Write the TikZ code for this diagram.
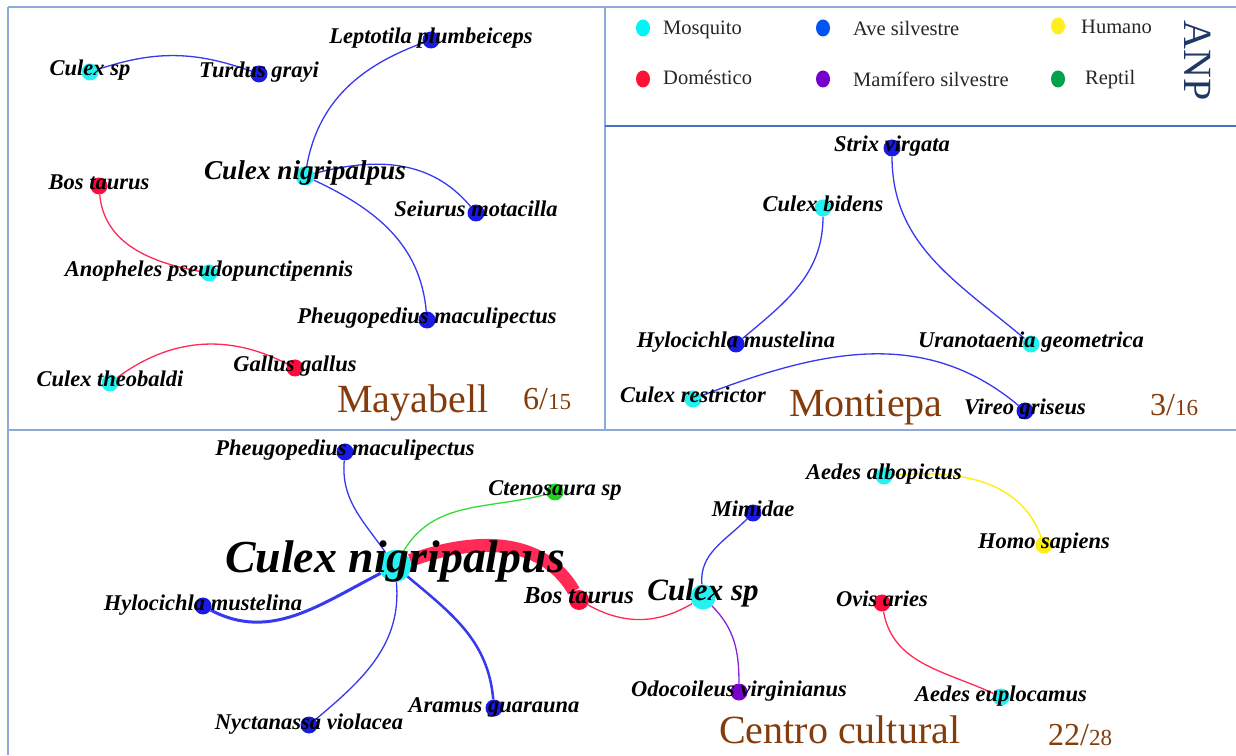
\documentclass[tikz,border=0pt]{standalone}
\usepackage{fontspec}
\setmainfont{Liberation Serif}
\usetikzlibrary{backgrounds,shapes.geometric}
\definecolor{mosq}{HTML}{22F2F2}
\definecolor{bird}{HTML}{1A1AE6}
\definecolor{dom}{HTML}{FF0A3C}
\definecolor{mam}{HTML}{7A00CC}
\definecolor{hum}{HTML}{FFEE11}
\definecolor{rep}{HTML}{22D022}
\definecolor{lmosq}{HTML}{00F5F5}
\definecolor{lbird}{HTML}{0055F0}
\definecolor{lhum}{HTML}{FFEE22}
\definecolor{ldom}{HTML}{FF1133}
\definecolor{lmam}{HTML}{7700CC}
\definecolor{lrep}{HTML}{00A04C}
\definecolor{ebird}{HTML}{3838F0}
\definecolor{edom}{HTML}{FF2A55}
\definecolor{egreen}{HTML}{33DD33}
\definecolor{eyel}{HTML}{FFEE00}
\definecolor{epurp}{HTML}{8822DD}
\definecolor{framec}{HTML}{8EAADB}
\definecolor{framed}{HTML}{4472C4}
\definecolor{titlec}{HTML}{843C0C}
\definecolor{anpc}{HTML}{1F3864}
\tikzset{
  dot/.style={circle, fill=#1, draw=none, minimum size=17pt, inner sep=0pt},
  ldot/.style={ellipse, fill=#1, draw=none, minimum width=14pt, minimum height=17pt, inner sep=0pt},
  lab/.style={font=\fontsize{22.5}{24}\selectfont\bfseries\itshape, anchor=base, inner sep=0pt, text=black, yshift=-4pt},
  leg/.style={font=\fontsize{20.5}{22}\selectfont, anchor=mid west, inner sep=0pt, text=black!85},
  ttl/.style={font=\fontsize{40}{42}\selectfont, anchor=base west, inner sep=0pt, text=titlec},
  frac/.style={anchor=base west, inner sep=0pt, text=titlec},
  link/.style={line width=1.3pt, draw=#1},
  frameline/.style={line width=1.5pt, draw=framec},
}
\begin{document}
\begin{tikzpicture}[x=1pt,y=1pt]
\useasboundingbox (0,0) rectangle (1236,755);
\begin{scope}[on background layer]
\fill[white] (0,0) rectangle (1236,755);
\end{scope}
% frame
\draw[frameline] (8,748) -- (1236,748);
\draw[frameline] (8,0) -- (8,748);
\draw[frameline] (605,748) -- (605,325);
\draw[frameline] (8,325) -- (1236,325);
\draw[line width=1.5pt, draw=framed] (605,629) -- (1236,629);

% legend
\node[ldot=lmosq] (L1) at (643,727) {};
\node[ldot=lbird] (L2) at (823,727) {};
\node[ldot=lhum] (L3) at (1058,729) {};
\node[ldot=ldom] (L4) at (643,676) {};
\node[ldot=lmam] (L5) at (823,676) {};
\node[ldot=lrep] (L6) at (1058,676) {};
\node[leg] (T1) at (663,723) {Mosquito};
\node[leg] (T2) at (853,722) {Ave silvestre};
\node[leg] (T3) at (1081,724) {Humano};
\node[leg] (T4) at (663,673) {Doméstico};
\node[leg] (T5) at (853,671) {Mamífero silvestre};
\node[leg] (T6) at (1085,673) {Reptil};
\node[rotate=-90, font=\fontsize{40}{42}\selectfont, text=anpc, inner sep=0pt] (ANP) at (1198,694) {ANP};

% ---------- Mayabell ----------
\node[dot=mosq] (CulexSp) at (90,683) {};
\node[dot=bird] (Turdus) at (259,681) {};
\node[dot=bird] (Lepto) at (431,715) {};
\node[dot=mosq, minimum size=19pt] (CnigM) at (305,579) {};
\node[dot=bird] (Seiu) at (476,542) {};
\node[dot=dom] (BosM) at (99,569) {};
\node[dot=mosq] (Anoph) at (209,482) {};
\node[dot=bird] (PheugM) at (427,435) {};
\node[dot=mosq] (Theob) at (110,372) {};
\node[dot=dom] (Gallus) at (295,387) {};

% ---------- Montiepa ----------
\node[dot=bird] (Strix) at (892,607) {};
\node[dot=mosq] (Bidens) at (823,547) {};
\node[dot=bird] (HyloMo) at (736,411) {};
\node[dot=mosq] (Urano) at (1031,411) {};
\node[dot=mosq] (Restr) at (693,356) {};
\node[dot=bird] (Vireo) at (1025,344) {};

% ---------- Centro cultural ----------
\node[dot=bird] (PheugC) at (345,303) {};
\node[dot=rep] (Cteno) at (555,263) {};
\node[dot=mosq, minimum size=32pt] (CnigC) at (395,189) {};
\node[dot=bird] (HyloC) at (203,149) {};
\node[dot=bird] (Nyct) at (309,30) {};
\node[dot=bird] (Aramus) at (494,47) {};
\node[dot=dom, minimum size=20pt] (BosC) at (579,155) {};
\node[dot=mosq, minimum size=25pt] (CsC) at (703,158) {};
\node[dot=bird] (Mimid) at (753,242) {};
\node[dot=mam] (Odoc) at (739,63) {};
\node[dot=mosq] (Albop) at (884,279) {};
\node[dot=hum] (Homo) at (1044,210) {};
\node[dot=dom] (Ovis) at (882,152) {};
\node[dot=mosq] (Euplo) at (1001,58) {};

% edges on the background layer (above the white fill, below dots)
\begin{scope}[on background layer]
\draw[link=ebird] (CulexSp) to[bend left=19] (Turdus);
\draw[link=ebird] (CnigM) to[out=80,in=200] (Lepto);
\draw[link=ebird] (CnigM) to[out=15,in=130] (Seiu);
\draw[link=ebird] (CnigM) to[out=-25,in=95] (PheugM);
\draw[link=edom] (BosM) to[out=-85,in=170] (Anoph);
\draw[link=edom] (Theob) to[bend left=32] (Gallus);
\draw[link=ebird] (Bidens) to[out=270,in=40] (HyloMo);
\draw[link=ebird] (Strix) to[out=270,in=140] (Urano);
\draw[link=ebird] (Restr) to[out=21,in=140] (Vireo);
\draw[link=ebird] (PheugC) to[out=265,in=125] (CnigC);
\draw[link=egreen] (CnigC) to[out=60,in=195] (Cteno);
\draw[link=edom, line width=13pt] (CnigC) to[out=20,in=120] (BosC);
\draw[link=edom] (BosC) to[bend right=30] (CsC);
\draw[link=ebird] (CsC) to[out=95,in=225] (Mimid);
\draw[link=epurp] (CsC) to[out=-45,in=90] (Odoc);
\draw[link=ebird, line width=3pt] (CnigC) to[out=207,in=-28] (HyloC);
\draw[link=ebird] (CnigC) to[out=275,in=40] (Nyct);
\draw[link=ebird, line width=2.5pt] (CnigC) to[out=-40,in=95] (Aramus);
\draw[link=eyel] (Albop) to[out=5,in=110] (Homo);
\draw[link=edom] (Ovis) to[out=-80,in=155] (Euplo);
\end{scope}

% labels Mayabell
\node[lab] (tCulexSp) at (CulexSp.center) {Culex sp};
\node[lab] (tTurdus) at (Turdus.center) {Turdus grayi};
\node[lab] (tLepto) at (Lepto.center) {Leptotila plumbeiceps};
\node[lab, font=\fontsize{27.2}{29}\selectfont\bfseries\itshape] (tCnigM) at (CnigM.center) {Culex nigripalpus};
\node[lab] (tSeiu) at (Seiu.center) {Seiurus motacilla};
\node[lab] (tBosM) at (BosM.center) {Bos taurus};
\node[lab] (tAnoph) at (Anoph.center) {Anopheles pseudopunctipennis};
\node[lab] (tPheugM) at (PheugM.center) {Pheugopedius maculipectus};
\node[lab] (tTheob) at (Theob.center) {Culex theobaldi};
\node[lab] (tGallus) at (Gallus.center) {Gallus gallus};
\node[ttl] (tMaya) at (337,342) {Mayabell};
\node[frac] (fMaya) at (523,345) {\fontsize{32}{34}\selectfont 6/\fontsize{23}{25}\selectfont 15};

% labels Montiepa
\node[lab] (tStrix) at (Strix.center) {Strix virgata};
\node[lab] (tBidens) at (Bidens.center) {Culex bidens};
\node[lab] (tHyloMo) at (HyloMo.center) {Hylocichla mustelina};
\node[lab] (tUrano) at (Urano.center) {Uranotaenia geometrica};
\node[lab] (tRestr) at (Restr.center) {Culex restrictor};
\node[lab] (tVireo) at (Vireo.center) {Vireo griseus};
\node[ttl] (tMonti) at (789,338) {Montiepa};
\node[frac] (fMonti) at (1150,339) {\fontsize{32}{34}\selectfont 3/\fontsize{23}{25}\selectfont 16};

% labels Centro cultural
\node[lab] (tPheugC) at (PheugC.center) {Pheugopedius maculipectus};
\node[lab] (tCteno) at (Cteno.center) {Ctenosaura sp};
\node[lab, font=\fontsize{45.8}{48}\selectfont\bfseries\itshape, yshift=-3pt] (tCnigC) at (CnigC.center) {Culex nigripalpus};
\node[lab] (tHyloC) at (HyloC.center) {Hylocichla mustelina};
\node[lab] (tNyct) at (Nyct.center) {Nyctanassa violacea};
\node[lab] (tAramus) at (Aramus.center) {Aramus guarauna};
\node[lab, font=\fontsize{24.5}{26}\selectfont\bfseries\itshape] (tBosC) at (BosC.center) {Bos taurus};
\node[lab, font=\fontsize{31}{33}\selectfont\bfseries\itshape] (tCsC) at (CsC.center) {Culex sp};
\node[lab] (tMimid) at (Mimid.center) {Mimidae};
\node[lab] (tOdoc) at (Odoc.center) {Odocoileus virginianus};
\node[lab] (tAlbop) at (Albop.center) {Aedes albopictus};
\node[lab] (tHomo) at (Homo.center) {Homo sapiens};
\node[lab] (tOvis) at (Ovis.center) {Ovis aries};
\node[lab] (tEuplo) at (Euplo.center) {Aedes euplocamus};
\node[ttl] (tCentro) at (719,12) {Centro cultural};
\node[frac] (fCentro) at (1048,10) {\fontsize{32}{34}\selectfont 22/\fontsize{23}{25}\selectfont 28};
\end{tikzpicture}
\end{document}
